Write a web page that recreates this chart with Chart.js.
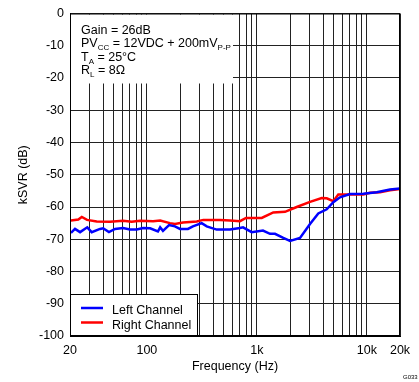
<!DOCTYPE html>
<html><head><meta charset="utf-8">
<script src="https://cdn.jsdelivr.net/npm/chart.js@4.4.0/dist/chart.umd.min.js"></script>
<style>html,body{margin:0;padding:0;background:#fff}#wrap{width:419px;height:382px;position:relative}</style>
</head><body><div id="wrap"><canvas id="c" width="419" height="382"></canvas></div>
<script>
const leftFreq = [20.4,22.2,24.7,28.7,31.5,37.5,40,45.2,51.3,60.7,70.2,80.8,92.2,107,126,132,140,159,180,200,236,262,315,350,431,570,702,748,897,1136,1316,1461,1738,2000,2466,3040,3616,4312,4950,5696,7021,9275,12280,16220,20000];
const leftDb = [-68,-66.8,-67.8,-66.3,-67.8,-66.8,-66.6,-67.8,-66.8,-66.5,-67,-67,-66.5,-66.6,-67.6,-66.3,-67.4,-65.6,-66,-66.8,-66.8,-66,-65,-66,-67,-67,-66.5,-66.3,-67.8,-67.3,-68.3,-68.3,-69.6,-70.5,-69.6,-65.3,-62,-60.7,-58.5,-57,-56,-55.9,-55.4,-54.6,-54.3];
const rightFreq = [20.4,23.8,25.6,28.6,35,46.2,60.7,72.8,86.6,114,132,162,180,213,284,326,462,570,702,796,1106,1410,1802,2302,3040,3882,4312,4950,5496,6548,9275,10670,13160,16220,20000];
const rightDb = [-64.2,-63.9,-63.1,-64,-64.5,-64.6,-64.3,-64.6,-64.3,-64.4,-64.2,-65,-65.3,-64.8,-64.5,-64,-64,-64.2,-64.4,-63.4,-63.4,-61.7,-61.5,-60,-58.4,-57.2,-57.3,-58.2,-56.1,-56.1,-56.1,-55.6,-55.4,-54.8,-54.4];
const xGridTicks = [20,30,40,50,60,70,80,90,100,200,300,400,500,600,700,800,900,1000,2000,3000,4000,5000,6000,7000,8000,9000,10000,20000];
const xTickLabels = {20:'20',100:'100',1000:'1k',10000:'10k',20000:'20k'};
const seriesNames = ['Left Channel','Right Channel'];
const FONT = '"Liberation Sans", Arial, sans-serif';

const overlay = {
  id:'overlay',
  afterDatasetsDraw(chart){
    const ctx = chart.ctx, a = chart.chartArea;
    ctx.save();
    ctx.fillStyle='#fff';
    ctx.fillRect(a.left+1, a.top+1, 162, 69);
    ctx.fillStyle='#000';
    ctx.textBaseline='alphabetic';
    const x0 = a.left+11;
    function seg(parts, y){
      let x = x0;
      for(const p of parts){
        ctx.font = (p.sub?'8px ':'12.5px ')+FONT;
        ctx.fillText(p.t, x, y + (p.sub?3:0));
        x += ctx.measureText(p.t).width;
      }
    }
    seg([{t:'Gain = 26dB'}], a.top+20.5);
    seg([{t:'PV'},{t:'CC',sub:1},{t:' = 12VDC + 200mV'},{t:'P-P',sub:1}], a.top+33.5);
    seg([{t:'T'},{t:'A',sub:1},{t:' = 25°C'}], a.top+47);
    seg([{t:'R'},{t:'L',sub:1},{t:' = 8Ω'}], a.top+60.5);
    const lx=a.left, ly=294.5, lw=127, lh=a.bottom-294.5;
    ctx.fillStyle='#fff';
    ctx.fillRect(lx, ly, lw, lh);
    ctx.strokeStyle='#000'; ctx.lineWidth=1;
    ctx.strokeRect(lx+0.5, ly, lw, lh);
    const cols=['#0000ff','#ff0000'];
    const ys=[308,322.5];
    ctx.font='12.5px '+FONT;
    for(let i=0;i<2;i++){
      ctx.strokeStyle=cols[i]; ctx.lineWidth=2.5;
      ctx.beginPath(); ctx.moveTo(a.left+11, ys[i]); ctx.lineTo(a.left+33, ys[i]); ctx.stroke();
      ctx.fillStyle='#000';
      ctx.fillText(seriesNames[i], a.left+42, ys[i]+6);
    }
    ctx.strokeStyle='#000'; ctx.lineWidth=1;
    ctx.strokeRect(a.left+0.5, a.top+0.5, a.right-a.left-1, a.bottom-a.top-1);
    ctx.font='6px '+FONT; ctx.fillStyle='#000';
    ctx.fillText('G033', 403, 379);
    ctx.restore();
  }
};

new Chart(document.getElementById('c'), {
  type:'line',
  data:{datasets:[
    {label:seriesNames[0], data:leftFreq.map((f,i)=>({x:f,y:leftDb[i]})), borderColor:'#0000ff', borderWidth:2.5, pointRadius:0, tension:0},
    {label:seriesNames[1], data:rightFreq.map((f,i)=>({x:f,y:rightDb[i]})), borderColor:'#ff0000', borderWidth:2.5, pointRadius:0, tension:0}
  ]},
  options:{
    responsive:false, animation:false, devicePixelRatio:1,
    layout:{padding:{left:12,right:19,top:7,bottom:8}},
    plugins:{legend:{display:false}, tooltip:{enabled:false}},
    scales:{
      x:{type:'logarithmic', min:20, max:20000,
        afterBuildTicks(s){ s.ticks = xGridTicks.map(v=>({value:v})); },
        afterFit(s){ s.height = 38; },
        ticks:{autoSkip:false, maxRotation:0, padding:7, color:'#000', font:{family:FONT,size:12.5},
          callback(v){ return xTickLabels[v] || ''; }},
        grid:{color:'#222', lineWidth:1, drawTicks:false},
        border:{display:true, color:'#000'},
        title:{display:true, text:'Frequency (Hz)', color:'#000', font:{family:FONT,size:12.5}, padding:{top:2,bottom:0}}
      },
      y:{min:-100, max:0,
        afterFit(s){ s.width = 58; },
        ticks:{stepSize:10, padding:6, color:'#000', font:{family:FONT,size:12.5}},
        grid:{color:'#222', lineWidth:1, drawTicks:false},
        border:{display:true, color:'#000'},
        title:{display:true, text:'kSVR (dB)', color:'#000', font:{family:FONT,size:12.5}, padding:{top:4,bottom:4}}
      }
    }
  },
  plugins:[overlay]
});
</script></body></html>
